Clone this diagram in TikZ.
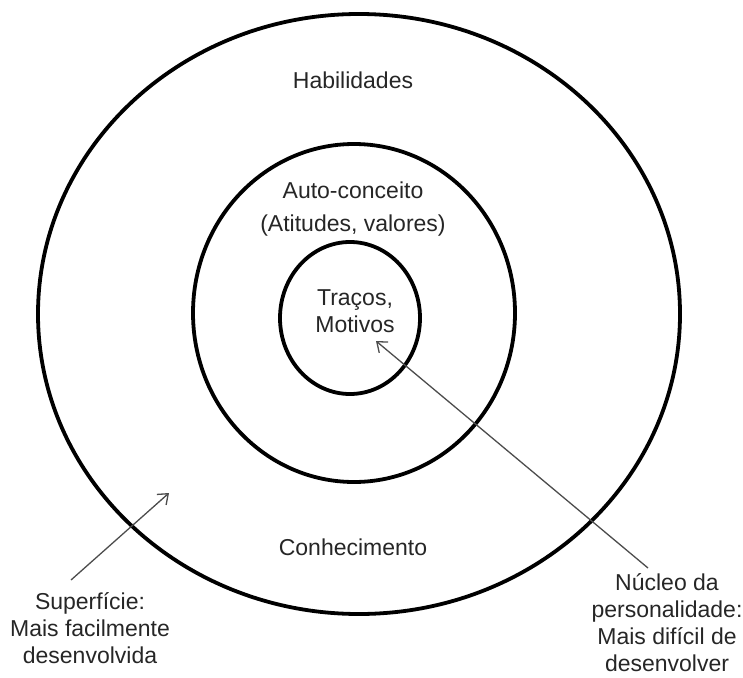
\documentclass[tikz,border=0pt]{standalone}
\usepackage{fontspec}
\setmainfont{Liberation Sans}
\usetikzlibrary{arrows.meta,positioning}

\tikzset{
  ring/.style={draw=black,line width=3.8pt},
  pointer/.style={draw=black!70,line width=1.3pt,-{Straight Barb[length=9pt,width=14pt]}},
  ringtext/.style={font=\fontsize{23}{27}\selectfont,text=black!85,inner sep=0pt},
  sidetext/.style={ringtext,align=center}
}

\begin{document}
\begin{tikzpicture}[x=1pt,y=-1pt]
  \useasboundingbox (0,0) rectangle (743,677);
  % three levels
  \draw[ring] (359,314) ellipse [x radius=321, y radius=300];
  \draw[ring] (354,313) ellipse [x radius=161, y radius=169];
  \draw[ring] (350,318) ellipse [x radius=70, y radius=76];
  % texts in the rings
  \node[ringtext] (hab) at (353,80) {Habilidades};
  \node[ringtext] (auto) at (353,190) {Auto-conceito};
  \node[ringtext] (atit) at (353,226) {(Atitudes, valores)};
  \node[sidetext] (tracos) at (355,311) {Traços,\\Motivos};
  \node[ringtext] (conh) at (353,547) {Conhecimento};
  % side notes
  \node[sidetext] (sup) at (90,628) {Superfície:\\Mais facilmente\\desenvolvida};
  \node[sidetext] (nucleo) at (667,623) {Núcleo da\\personalidade:\\Mais difícil de\\desenvolver};
  \coordinate (supfrom) at (71,580);
  \coordinate (supto) at (169,493);
  \coordinate (nucfrom) at (648,568);
  \coordinate (nucto) at (376,341);
  \draw[pointer] (supfrom) -- (supto);
  \draw[pointer] (nucfrom) -- (nucto);
\end{tikzpicture}
\end{document}
